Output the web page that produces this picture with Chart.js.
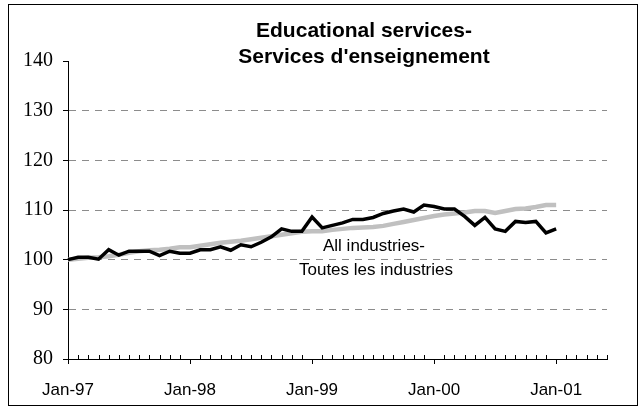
<!DOCTYPE html>
<html>
<head>
<meta charset="utf-8">
<script src="https://cdn.jsdelivr.net/npm/chart.js@4.4.1/dist/chart.umd.min.js"></script>
<style>
  html, body { margin: 0; padding: 0; background: #fff; }
</style>
</head>
<body>
<canvas id="chart" width="642" height="413"></canvas>
<script>
// monthly categories, Jan-97 .. Jun-01 (axis runs a few months past the data)
const months = [
    'Jan-97', 'Feb-97', 'Mar-97', 'Apr-97', 'May-97', 'Jun-97', 'Jul-97', 'Aug-97', 'Sep-97', 'Oct-97', 'Nov-97', 'Dec-97',
    'Jan-98', 'Feb-98', 'Mar-98', 'Apr-98', 'May-98', 'Jun-98', 'Jul-98', 'Aug-98', 'Sep-98', 'Oct-98', 'Nov-98', 'Dec-98',
    'Jan-99', 'Feb-99', 'Mar-99', 'Apr-99', 'May-99', 'Jun-99', 'Jul-99', 'Aug-99', 'Sep-99', 'Oct-99', 'Nov-99', 'Dec-99',
    'Jan-00', 'Feb-00', 'Mar-00', 'Apr-00', 'May-00', 'Jun-00', 'Jul-00', 'Aug-00', 'Sep-00', 'Oct-00', 'Nov-00', 'Dec-00',
    'Jan-01', 'Feb-01', 'Mar-01', 'Apr-01', 'May-01', 'Jun-01'
];
const tickLabels = ['Jan-97', 'Jan-98', 'Jan-99', 'Jan-00', 'Jan-01'];

const education = [
    100.0, 100.5, 100.5, 100.1, 102.0, 100.9, 101.7, 101.7, 101.7, 100.8, 101.7, 101.3,
    101.3, 102.0, 102.0, 102.6, 101.9, 103.0, 102.6, 103.5, 104.6, 106.2, 105.7, 105.7,
    108.6, 106.4, 106.9, 107.4, 108.1, 108.1, 108.5, 109.3, 109.8, 110.2, 109.6, 111.0,
    110.7, 110.2, 110.2, 108.7, 106.9, 108.5, 106.2, 105.7, 107.7, 107.5, 107.7, 105.4,
    106.2
];
const allIndustries = [
    100.0, 100.2, 100.4, 100.5, 100.7, 101.0, 101.4, 101.7, 101.9, 102.0, 102.2, 102.5,
    102.5, 102.8, 103.1, 103.4, 103.6, 103.8, 104.1, 104.4, 104.7, 105.0, 105.3, 105.6,
    105.7, 105.7, 106.0, 106.2, 106.4, 106.5, 106.6, 106.8, 107.2, 107.6, 108.0, 108.4,
    108.8, 109.1, 109.3, 109.5, 109.8, 109.8, 109.4, 109.8, 110.2, 110.3, 110.6, 111.0,
    111.0
];

const titleLines = ['Educational services-', "Services d'enseignement"];
const noteLines = ['All industries-', 'Toutes les industries'];

const extras = {
    id: 'extras',
    beforeDraw(chart) {
        const ctx = chart.ctx;
        ctx.save();
        ctx.fillStyle = '#fff';
        ctx.fillRect(0, 0, chart.width, chart.height);
        ctx.strokeStyle = '#000';
        ctx.lineWidth = 1;
        ctx.strokeRect(8.5, 4.5, 629, 401);
        ctx.restore();
    },
    afterDraw(chart) {
        const ctx = chart.ctx;
        const x = chart.scales.x;
        const bottom = chart.chartArea.bottom;
        ctx.save();
        // small monthly ticks pointing up into the plot
        ctx.strokeStyle = '#000';
        ctx.lineWidth = 1;
        ctx.beginPath();
        months.forEach((m, i) => {
            if (i % 12 === 0) return;
            const px = Math.round(x.getPixelForValue(i)) + 0.5;
            ctx.moveTo(px, bottom);
            ctx.lineTo(px, bottom - 4);
        });
        ctx.stroke();

        ctx.fillStyle = '#000';
        ctx.textAlign = 'center';
        ctx.textBaseline = 'alphabetic';
        ctx.font = 'bold 21px "Liberation Sans", Arial, sans-serif';
        ctx.fillText(titleLines[0], 364, 37);
        ctx.fillText(titleLines[1], 364, 63);

        ctx.font = '17px "Liberation Sans", Arial, sans-serif';
        ctx.fillText(noteLines[0], 374, 251);
        ctx.fillText(noteLines[1], 376, 275);
        ctx.restore();
    }
};

new Chart(document.getElementById('chart'), {
    type: 'line',
    data: {
        labels: months,
        datasets: [{
            label: 'Educational services',
            data: education,
            borderColor: '#000',
            borderWidth: 3.5,
            pointRadius: 0,
            tension: 0,
            order: 0
        }, {
            label: 'All industries',
            data: allIndustries,
            borderColor: '#c0c0c0',
            borderWidth: 4.5,
            pointRadius: 0,
            tension: 0,
            order: 1
        }]
    },
    options: {
        responsive: false,
        devicePixelRatio: 1,
        animation: false,
        layout: {
            padding: {top: 61, right: 35, bottom: 0, left: 0}
        },
        plugins: {
            legend: {display: false},
            title: {display: false},
            tooltip: {enabled: false}
        },
        scales: {
            x: {
                type: 'category',
                offset: false,
                grid: {
                    drawOnChartArea: false,
                    drawTicks: true,
                    tickLength: 5,
                    tickColor: ctx => ctx.index % 12 === 0 ? '#000' : 'rgba(0,0,0,0)'
                },
                border: {display: true, color: '#000', width: 1},
                ticks: {
                    autoSkip: false,
                    maxRotation: 0,
                    minRotation: 0,
                    padding: 16,
                    color: '#000',
                    font: {family: '"Liberation Sans", Arial, sans-serif', size: 17},
                    callback: (v, i) => i % 12 === 0 ? tickLabels[i / 12] : ''
                },
                afterFit: s => { s.height = 54; }
            },
            y: {
                min: 80,
                max: 140,
                grid: {
                    color: ctx => (ctx.tick && (ctx.tick.value === 80 || ctx.tick.value === 140)) ? 'rgba(0,0,0,0)' : '#8c8c8c',
                    tickColor: '#000',
                    tickLength: 5,
                    lineWidth: 1
                },
                border: {display: true, color: '#000', width: 1, dash: [7, 6]},
                ticks: {
                    stepSize: 10,
                    padding: 10,
                    color: '#000',
                    font: {family: '"Liberation Serif", "Times New Roman", serif', size: 20}
                },
                afterFit: s => { s.width = 68; }
            }
        }
    },
    plugins: [extras]
});
</script>
</body>
</html>
